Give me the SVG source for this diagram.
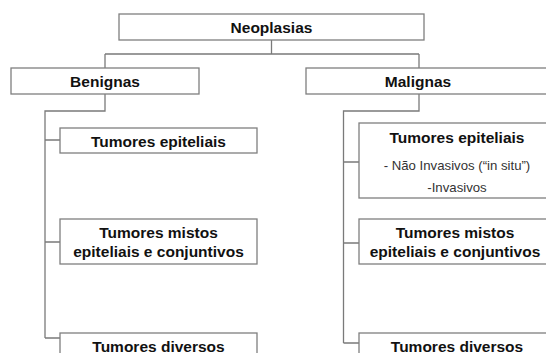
<svg xmlns="http://www.w3.org/2000/svg" width="546" height="353" viewBox="0 0 546 353">
<style>
.box{fill:#fff;stroke:#7f7f7f;stroke-width:1.3}
.ln{fill:none;stroke:#7a7a7a;stroke-width:1.3}
.t{font-family:"Liberation Sans",Arial,sans-serif;font-weight:bold;font-size:15.5px;fill:#111;text-anchor:middle}
.s{font-family:"Liberation Sans",Arial,sans-serif;font-size:13.2px;fill:#333;text-anchor:middle}
</style>
<rect width="546" height="353" fill="#fff"/>
<g id="connectors">
<path class="ln" d="M271.5 40V54M105 54H419M105 54V68M419 54V68"/>
<path class="ln" d="M105 94V111H45V338M45 140H60M45 242H60M45 338H60"/>
<path class="ln" d="M419 94V111H343.5V343M343.5 162H359M343.5 243H359M343.5 343H359"/>
</g>
<g id="neoplasias"><rect class="box" x="119" y="14" width="305" height="26"/><text class="t" x="271.5" y="33">Neoplasias</text></g>
<g id="benignas"><rect class="box" x="11" y="68" width="188" height="26"/><text class="t" x="105" y="87">Benignas</text></g>
<g id="malignas"><rect class="box" x="306" y="68" width="250" height="26"/><text class="t" x="418" y="87">Malignas</text></g>
<g id="b-epiteliais"><rect class="box" x="60" y="128" width="197" height="25"/><text class="t" x="158.5" y="146.5">Tumores epiteliais</text></g>
<g id="b-mistos"><rect class="box" x="60" y="219" width="197" height="45"/><text class="t" x="158.5" y="238">Tumores mistos</text><text class="t" x="158.5" y="257">epiteliais e conjuntivos</text></g>
<g id="b-diversos"><rect class="box" x="60" y="333" width="197" height="30"/><text class="t" x="158.5" y="351.5">Tumores diversos</text></g>
<g id="m-epiteliais"><rect class="box" x="359" y="123" width="200" height="75"/><text class="t" x="457" y="142.5">Tumores epiteliais</text><text class="s" x="457" y="170">- Não Invasivos (“in situ”)</text><text class="s" x="457" y="192">-Invasivos</text></g>
<g id="m-mistos"><rect class="box" x="359" y="219" width="200" height="45"/><text class="t" x="455" y="238">Tumores mistos</text><text class="t" x="455" y="257">epiteliais e conjuntivos</text></g>
<g id="m-diversos"><rect class="box" x="359" y="333" width="200" height="30"/><text class="t" x="457" y="351.5">Tumores diversos</text></g>
</svg>
